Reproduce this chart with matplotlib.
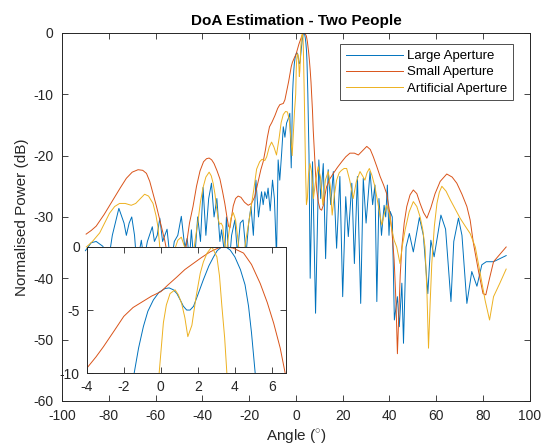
import matplotlib
matplotlib.use("Agg")
import matplotlib.pyplot as plt

plt.rcParams['font.family'] = ['Liberation Sans', 'DejaVu Sans']
plt.rcParams['mathtext.fontset'] = 'custom'
plt.rcParams['mathtext.rm'] = 'Liberation Sans'
plt.rcParams['axes.unicode_minus'] = False

# ---------------- data (angle in degrees, power in dB) ----------------
large_angle = [-90, -87.5, -85.4, -82.5, -80.5, -78.5, -75.7, -73.5, -72.5, -71.3, -70.2, -69, -68,
               -66.1, -65, -63.5, -61.4, -60.5, -59.3, -58.2, -57, -55.1, -53.5, -52, -50.5, -49,
               -47.5, -46.5, -45.5, -44.7, -43.5, -42, -40.8, -39.7, -38.5, -37.3, -36.1, -35, -33.8,
               -32.5, -31.8, -30.5, -29.7, -28.6, -27.5, -26.1, -25, -23.8, -22.6, -21.3, -20.2,
               -19.2, -18.2, -17.1, -16, -14.7, -14, -13.3, -12.5, -11.9, -11, -10, -9.2, -8.3,
               -7.6, -6.9, -6.1, -5.4, -4.7, -4, -3.3, -2.6, -2.0, -1.44, -1.2, -0.94, -0.7, -0.4,
               -0.1, 0.23, 0.45, 0.68, 0.87, 1.05, 1.22, 1.4, 1.58, 1.77, 2.0, 2.3, 2.6, 2.85, 3.05,
               3.3, 3.55, 3.75, 4.0, 4.3, 4.55, 4.74, 4.9, 5.1, 5.6, 6.1, 7.1, 7.6, 8.4, 9.8,
               10.6, 11.7, 12.7, 13.8, 14.9, 16, 17.4, 18.8, 20, 21.3, 22.4, 23.9, 25, 26.3, 27.7,
               28.8, 30, 31.7, 32.8, 33.8, 34.6, 35.5, 36.6, 37.7, 38.4, 39.1, 39.8, 40.3, 41.2,
               42.1, 43.4, 44.2, 45.3, 46, 47.1, 48.5, 50.2, 52.8, 54.5, 56.4, 57.7, 59.1, 62, 64,
               66.3, 67.5, 69.5, 71, 73.1, 75.2, 77.4, 79.5, 81.4, 84.5, 89.9]
large_db = [-35.5, -34.2, -34, -34.8, -38, -33, -28.6, -31, -33, -31, -30, -33, -38,
            -33.8, -37, -34, -31.6, -34, -33, -30.2, -34, -32, -38, -34, -33, -29.9,
            -35, -33.5, -37, -32.1, -38, -30, -34, -25.2, -33, -27, -24.5, -30, -27,
            -34, -32.1, -36, -30, -38, -33, -30.5, -36, -31, -30.5, -36, -31,
            -28.3, -33, -24, -30, -25.9, -28, -25.9, -27, -25.3, -29, -24, -27, -36.5,
            -20.7, -24, -19.6, -15.3, -17, -14.7, -14, -13.1, -22, -10, -8, -6.3, -5.1, -4.2,
            -3.6, -3.3, -3.25, -3.4, -3.7, -4.2, -4.7, -5.0, -5.0, -4.7, -3.8, -2.6, -1.5, -0.8, -0.3,
            0, -0.05, -0.26, -0.8, -1.8, -3.0, -4.7, -6.8, -10, -20, -40, -21, -30, -45.7, -20.7,
            -27, -21.3, -36.8, -22.3, -28, -22.6, -35.1, -23.4, -43, -26.7, -33.2, -24.5, -37.6, -23.4, -44.1,
            -23.7, -31, -22.6, -28, -24.8, -43.8, -27, -33, -28.1, -30, -24.8, -33, -29.1, -30,
            -46.8, -43, -47.9, -40.8, -50.6, -34.9, -32.7, -35.7, -30.1, -33, -42.5, -33.8, -36.5, -29.7, -32,
            -43.8, -34, -30.2, -33, -44.1, -38.9, -41.3, -37.8, -37.3, -37.3, -36.3]

small_angle = [-89.7, -87.5, -85.4, -82, -78.2, -75, -72.5, -70, -67.5, -65.5, -63.9, -62.5, -61.1,
               -59.6, -58.2, -56.1, -54.5, -53, -51.5, -50, -48.5, -46.8, -45.5, -44, -42.5, -41,
               -39.5, -38.2, -37.1, -36, -35, -33.7, -32.5, -31.4, -30.4, -29.5, -28.8, -28.2, -27.6,
               -26.8, -25.8, -24.7, -23.5, -22, -20.4, -19, -17.6, -16.3, -15, -14, -13, -12.2, -11.3,
               -10.3, -9, -7.8, -6.9, -5.4, -4.7, -4, -3.5, -3.1, -2.5, -2, -1.5, -0.94, -0.5, 0,
               0.4, 0.86, 1.3, 1.77, 2.2, 2.67, 3.1, 3.48, 3.9, 4.47, 4.9, 5.37, 5.75, 6.1, 6.45,
               6.72, 7.1, 7.4, 7.9, 8.4, 8.9, 9.6, 10.3, 11, 11.8, 12.5, 13.1, 14.5, 16, 17.8, 19.6,
               21.3, 23.1, 25, 26.7, 28.5, 30.3, 31.8, 33.1, 34.6, 36, 37.5, 38.8, 40, 41, 42, 42.8,
               43.4, 44, 44.6, 45.3, 46.3, 47.4, 48.8, 50.2, 51.7, 53.1, 54.6, 56, 57.7, 59.5, 61.7,
               64.5, 66.8, 68.8, 71, 73.1, 74.5, 75.9, 78.1, 80, 81.2, 82.8, 84.5, 87.2, 89.9]
small_db = [-32.8, -32.2, -31.5, -29.6, -27.2, -25.2, -23.7, -22.7, -22.3, -22.4, -22.9, -24.2, -26.2,
            -28.3, -30.5, -33.8, -37, -41, -45, -44, -39, -34.5, -31, -28.3, -25, -22.5,
            -21, -20.5, -20.4, -20.7, -21.3, -22.5, -23.8, -25.8, -27.8, -30, -31.5, -31.8, -30.2,
            -28.2, -27, -26.6, -26.8, -27.6, -28.1, -27.8, -26.7, -24.5, -22.3, -21, -19, -17, -15.3,
            -14.6, -13.5, -12.3, -11.7, -11.5, -10.9, -9.6, -8.7, -7.9, -6.6, -5.5, -4.8, -4.3, -3.9, -3.55,
            -3.0, -2.4, -1.8, -1.3, -0.85, -0.4, -0.1, 0, -0.1, -0.5, -1.4, -2.9, -4.4, -6.05, -8,
            -10, -12.8, -15.8, -19.5, -23, -25.6, -27.6, -28.7, -28.9, -28, -26.3, -25.1, -23.8, -22.9, -21.9, -21,
            -20.2, -19.6, -19.6, -19.9, -19.2, -18.5, -19, -20.2, -21.8, -23.4, -24.8, -26.2, -29, -32.1, -37, -44,
            -52.3, -46, -39.5, -34.9, -31, -28.3, -26.4, -25.6, -26.2, -27.8, -29.3, -30.2, -28.5, -26.2, -24.2,
            -23, -23.5, -24.5, -26.3, -28.3, -30.5, -34.3, -38.9, -42.5, -42.7, -40, -37.3, -36.1, -34.9]

artificial_angle = [-89.6, -87, -83.9, -81.8, -79.7, -77.5, -75.4, -73, -70.4, -68.5, -66.5, -64.7,
                    -63, -61.1, -59.8, -59, -58.2, -57, -55.5, -53.5, -52, -50.5, -49, -47.5, -46,
                    -44.5, -43, -41.8, -40.8, -39.7, -38.5, -37.1, -36.2, -35.4, -34.6, -34, -33.3,
                    -32.7, -32, -31.3, -30.6, -29.8, -28.8, -27.8, -26.8, -25.8, -25, -24, -23, -21.5,
                    -20.2, -19.2, -18, -16.8, -15.5, -14.5, -13.3, -12.5, -11.4, -10.4, -9.4, -8.3,
                    -7.2, -6.3, -5.4, -4.4, -3.6, -2.8, -2.2, -1.6, -1.1, -0.6, -0.09, 0.14, 0.3, 0.5,
                    0.77, 0.95, 1.13, 1.3, 1.46, 1.68, 1.9, 2.13, 2.3, 2.5, 2.76, 3.03, 3.17, 3.3, 3.45,
                    3.57, 3.8, 4.1, 4.5, 4.9, 5.4, 6, 6.7, 7.5, 8.3, 9.5, 10.5, 11.5, 12.6, 13.8, 14.7,
                    15.5, 16.4, 17.4, 18.5, 19.5, 20.6, 21.7, 23, 24.5, 25.8, 27.4, 28.5, 29.5, 30.4,
                    31.4, 32.5, 33.8, 35.3, 36.7, 37.8, 38.8, 40, 41, 42, 43.1, 44.5, 45.6, 46.7, 48.4,
                    50.2, 51.7, 53.1, 54.2, 55.2, 56, 56.7, 57.4, 58.1, 59.2, 60.3, 61.3, 62.4, 64.2,
                    66, 68.1, 70.2, 72.4, 74.5, 76.7, 78.8, 80.9, 82.8, 84.5, 87.2, 89.9]
artificial_db = [-34.9, -34, -32.6, -31, -29.4, -28.3, -27.8, -27.8, -28.1, -27.8, -27, -26.3,
                 -26.6, -27.8, -29.8, -31.6, -34.9, -39, -42, -38, -35.5, -33.8, -33.3, -35, -40,
                 -38, -33.5, -30.5, -27.5, -25.2, -23.5, -22.7, -23.3, -24.5, -26.3, -28.3, -30.2,
                 -31.2, -31, -31.5, -34, -36, -33, -30.2, -29.3, -30.5, -33, -36.5, -39, -34,
                 -31, -28.5, -25.5, -22.2, -21, -20.6, -20.8, -20.2, -18.6, -17.8, -18.6, -19.9,
                 -17.2, -14.6, -13.3, -12.8, -12.9, -14.3, -17, -20, -16.5, -12.8, -10, -6, -4.6, -3.7,
                 -3.4, -3.8, -4.5, -5.6, -7.1, -6.2, -4, -2.1, -1.2, -0.5, 0, -0.8, -2.3, -4.7, -7.2,
                 -10, -15, -22, -28, -27, -23, -21.3, -22.7, -27, -24.5, -21.8, -23.5, -28, -24, -22.6, -25,
                 -29.7, -26.5, -24, -22.8, -22.4, -22.1, -22.1, -24, -27, -24.3, -22.6, -23.3, -24, -22.8,
                 -22.1, -23.2, -25.1, -28.3, -31.3, -29.5, -28.1, -29.5, -32.1, -33.8, -34.9, -37.6, -34.5, -32.1, -29.2,
                 -27.5, -28.3, -30, -32, -34.9, -42, -51.4, -44, -37.6, -31.5, -27.8, -26, -25, -25.8,
                 -27.2, -28.7, -30.2, -31.5, -32.7, -34.9, -39.2, -43.6, -46.8, -43, -40.8, -38.5]

series_names = ["Large Aperture", "Small Aperture", "Artificial Aperture"]
colors = ["#0072BD", "#D95319", "#EDB120"]

x_ticks = [-100, -80, -60, -40, -20, 0, 20, 40, 60, 80, 100]
y_ticks = [-60, -50, -40, -30, -20, -10, 0]
inset_x_ticks = [-4, -2, 0, 2, 4, 6]
inset_y_ticks = [-10, -5, 0]

# ---------------- figure ----------------
fig = plt.figure(figsize=(5.49, 4.45), dpi=100)
ax = fig.add_axes([0.113, 0.099, 0.852, 0.827])

data = [(large_angle, large_db), (small_angle, small_db), (artificial_angle, artificial_db)]
for (a, d), c, n in zip(data, colors, series_names):
    ax.plot(a, d, color=c, lw=0.7, label=n)

dark = "#262626"
ax.set_xlim(-100, 100)
ax.set_ylim(-60, 0)
ax.set_xticks(x_ticks)
ax.set_yticks(y_ticks)
ax.tick_params(direction='in', length=4, width=0.6, top=True, right=True,
               labelsize=10, colors=dark, pad=6)
for s in ax.spines.values():
    s.set_color(dark)
    s.set_linewidth(0.7)
ax.set_xlabel("Angle ($^{\\circ}$)", fontsize=11, color=dark, labelpad=3)
ax.set_ylabel("Normalised Power (dB)", fontsize=11, color=dark, labelpad=3)
ax.set_title("DoA Estimation - Two People", fontsize=11, fontweight='bold', color='black', pad=6)

leg = ax.legend(loc='upper right', bbox_to_anchor=(0.964, 0.97), borderaxespad=0,
                fontsize=9.5, handlelength=4.3, fancybox=False, framealpha=1,
                edgecolor='#4d4d4d', borderpad=0.45, labelspacing=0.3, handletextpad=0.3)
leg.get_frame().set_linewidth(0.7)

# ---------------- inset ----------------
axi = fig.add_axes([0.158, 0.161, 0.3625, 0.2845])
axi.set_facecolor('white')
for (a, d), c in zip(data, colors):
    axi.plot(a, d, color=c, lw=0.7)
axi.set_xlim(-4, 6.75)
axi.set_ylim(-10, 0)
axi.set_xticks(inset_x_ticks)
axi.set_yticks(inset_y_ticks)
axi.tick_params(direction='in', length=4, width=0.6, top=True, right=True,
                labelsize=10, colors=dark, pad=5)
for s in axi.spines.values():
    s.set_color(dark)
    s.set_linewidth(0.7)

fig.savefig("out.png", dpi=100)
